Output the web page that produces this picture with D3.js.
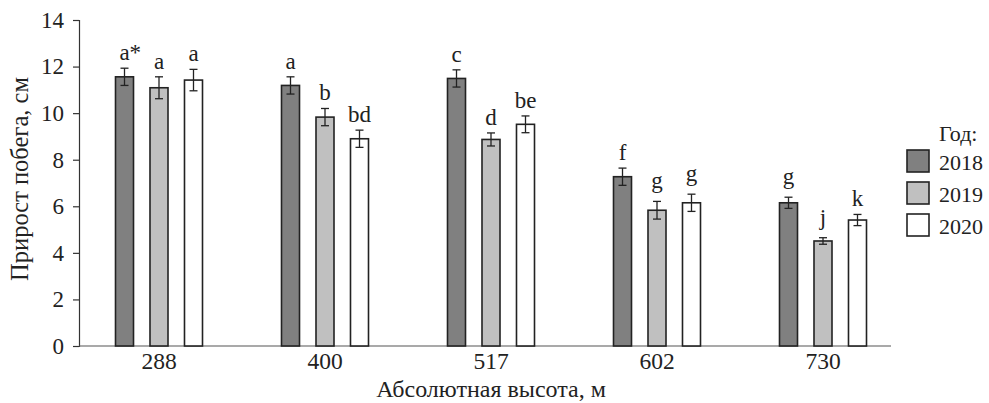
<!DOCTYPE html>
<html><head><meta charset="utf-8">
<script src="https://cdn.jsdelivr.net/npm/d3@7/dist/d3.min.js"></script>
<style>
body{margin:0;background:#fff;}
text{font-family:"Liberation Serif","Times New Roman",serif;fill:#222;}
</style></head>
<body><svg id="c" width="989" height="403"></svg>
<script>
const categories = ["288","400","517","602","730"];
const years = ["2018","2019","2020"];
const values2018 = [11.56, 11.19, 11.49, 7.27, 6.15];
const values2019 = [11.09, 9.83, 8.87, 5.83, 4.51];
const values2020 = [11.42, 8.90, 9.52, 6.15, 5.41];
const errors2018 = [0.37, 0.37, 0.37, 0.37, 0.24];
const errors2019 = [0.47, 0.37, 0.28, 0.38, 0.14];
const errors2020 = [0.46, 0.37, 0.36, 0.37, 0.24];
const labels2018 = ["a*","a","c","f","g"];
const labels2019 = ["a","b","d","g","j"];
const labels2020 = ["a","bd","be","g","k"];
const yTicks = [0,2,4,6,8,10,12,14];
const colors = ["#808080","#c0c0c0","#ffffff"];

(function(){
const series = [
  {year:years[0], vals:values2018, errs:errors2018, labs:labels2018, color:colors[0]},
  {year:years[1], vals:values2019, errs:errors2019, labs:labels2019, color:colors[1]},
  {year:years[2], vals:values2020, errs:errors2020, labs:labels2020, color:colors[2]}
];

const svg = d3.select("#c");
const mLeft = 79, mRight = 891, mTop = 20, mBottom = 346;
const y = d3.scaleLinear().domain([0,14]).range([mBottom, mTop]);
const x0 = d3.scaleBand().domain(categories).range([76, 906]);
const x1 = d3.scaleBand().domain(years).range([-43.5, 43.5]).paddingInner(0.478).paddingOuter(0);

// y axis
const yAxis = svg.append("g").attr("transform",`translate(${mLeft},0)`)
  .call(d3.axisLeft(y).tickValues(yTicks).tickSize(6).tickPadding(9).tickFormat(d3.format("d")));
yAxis.select(".domain").attr("stroke","#333").attr("stroke-width",1.2);
yAxis.selectAll(".tick line").attr("stroke","#333").attr("stroke-width",1.2);
yAxis.selectAll(".tick text").attr("font-size",23).style("font-family","Liberation Serif").attr("fill","#222");

// x axis
const xAxis = svg.append("g").attr("transform",`translate(0,${mBottom})`)
  .call(d3.axisBottom(x0).tickSize(0).tickPadding(7));
xAxis.select(".domain").remove();
xAxis.append("line").attr("x1",mLeft).attr("x2",mRight).attr("y1",0).attr("y2",0)
  .attr("stroke","#555").attr("stroke-width",1.2);
xAxis.selectAll(".tick text").attr("font-size",23.5).style("font-family","Liberation Serif").attr("fill","#222").attr("dy","0.68em");

const bw = x1.bandwidth();
series.forEach(s=>{
  const g = svg.append("g");
  categories.forEach((c,i)=>{
    const cx = x0(c) + x0.bandwidth()/2 + x1(s.year) + bw/2;
    g.append("rect").attr("x", cx-bw/2).attr("y", y(s.vals[i]))
      .attr("width", bw).attr("height", y(0)-y(s.vals[i]))
      .attr("fill", s.color).attr("stroke","#222").attr("stroke-width",1.6);
    const eTop = y(s.vals[i]+s.errs[i]), eBot = y(s.vals[i]-s.errs[i]);
    g.append("line").attr("x1",cx).attr("x2",cx).attr("y1",eTop).attr("y2",eBot).attr("stroke","#222").attr("stroke-width",1.3);
    g.append("line").attr("x1",cx-4).attr("x2",cx+4).attr("y1",eTop).attr("y2",eTop).attr("stroke","#222").attr("stroke-width",1.3);
    g.append("line").attr("x1",cx-4).attr("x2",cx+4).attr("y1",eBot).attr("y2",eBot).attr("stroke","#222").attr("stroke-width",1.3);
    const lab = s.labs[i];
    const base = lab.replace("*","");
    const t = g.append("text").attr("font-size",23).attr("text-anchor","start").attr("x",0).attr("y",0);
    t.append("tspan").text(base);
    if (lab.includes("*")) t.append("tspan").text("*");
    const bwText = t.select("tspan").node().getComputedTextLength();
    const bb = t.node().getBBox();
    const descent = /[gjpqy]/.test(base) ? 0 : 5;
    t.attr("x", cx - bwText/2).attr("y", eTop - 8 - (bb.y + bb.height) + descent);
  });
});

// axis titles
svg.append("text").attr("transform",`translate(28,179) rotate(-90)`)
  .attr("text-anchor","middle").attr("font-size",24.5).text("Прирост побега, см");
svg.append("text").attr("x",(mLeft+mRight)/2+6).attr("y",397)
  .attr("text-anchor","middle").attr("font-size",24).text("Абсолютная высота, м");

// legend
const lg = svg.append("g");
lg.append("text").attr("x",939).attr("y",141).attr("font-size",22).text("Год:");
series.forEach((s,i)=>{
  const yy = 150 + i*32;
  lg.append("rect").attr("x",907).attr("y",yy).attr("width",22).attr("height",22)
    .attr("fill",s.color).attr("stroke","#222").attr("stroke-width",1.6);
  lg.append("text").attr("x",939).attr("y",yy+20).attr("font-size",22).text(s.year);
});
})();
</script></body></html>
